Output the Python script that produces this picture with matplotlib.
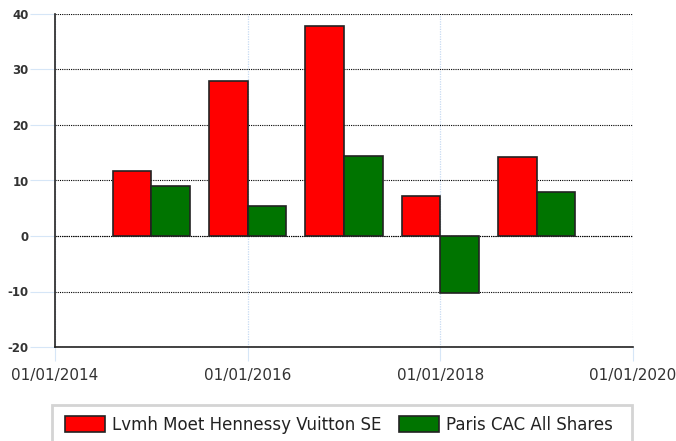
import matplotlib
matplotlib.use("Agg")
import matplotlib.pyplot as plt
import matplotlib.dates as mdates
from matplotlib.patches import Rectangle
import numpy as np
from datetime import date

# yearly returns (%)
years = [2015, 2016, 2017, 2018, 2019]
lvmh = [11.7, 28.0, 37.9, 7.2, 14.2]
cac = [9.0, 5.4, 14.4, -10.3, 7.9]
series_names = ["Lvmh Moet Hennessy Vuitton SE", "Paris CAC All Shares"]
tick_years = [2014, 2016, 2018, 2020]

plt.rcParams["axes.unicode_minus"] = False

fig = plt.figure(figsize=(6.76, 4.41), dpi=100)
ax = fig.add_axes([55/676, 1 - 347/441, (633-55)/676, (347-14)/441])

centers = [mdates.date2num(date(y, 1, 1)) for y in years]
w = 147
ax.bar(centers, lvmh, width=-w, align="edge", color="#ff0000",
       edgecolor="#222222", linewidth=1.2, label=series_names[0], zorder=3)
ax.bar(centers, cac, width=w, align="edge", color="#007400",
       edgecolor="#222222", linewidth=1.2, label=series_names[1], zorder=3)

ax.set_xlim(mdates.date2num(date(2014, 1, 1)), mdates.date2num(date(2020, 1, 1)))
ax.set_ylim(-20, 40)
ax.set_yticks(np.arange(-20, 41, 10))
ax.set_xticks([mdates.date2num(date(y, 1, 1)) for y in tick_years])
ax.set_xticklabels([f"01/01/{y}" for y in tick_years])

ax.grid(axis="y", color="black", linestyle=(0, (1, 1)), linewidth=0.8, zorder=1)
ax.grid(axis="x", color="#c6daf2", linestyle=(0, (1, 1)), linewidth=0.9, zorder=1)
ax.axhline(0, color="black", linestyle=(0, (1, 1)), linewidth=0.8, zorder=1)

for s in ["top", "right"]:
    ax.spines[s].set_visible(False)
for s in ["left", "bottom"]:
    ax.spines[s].set_color("#222222")
    ax.spines[s].set_linewidth(1.2)

ax.tick_params(axis="y", length=18, color="#d6e6f7", labelsize=8.5,
               labelcolor="#333333", pad=1)
ax.tick_params(axis="x", length=10, color="#d6e6f7", labelsize=11,
               labelcolor="#333333", pad=5)
for lbl in ax.get_yticklabels():
    lbl.set_fontweight("bold")

# legend frame drawn by hand so it spans the plot width
fig.patches.append(Rectangle((52/676, -0.01), 580/676, (441-405)/441 + 0.01,
                             transform=fig.transFigure, facecolor="white",
                             edgecolor="#d4d4d4", linewidth=2, zorder=0))
leg = fig.legend(loc="center left", bbox_to_anchor=(50/676, 1 - 425/441), ncol=2,
                 fontsize=12, frameon=False,
                 handlelength=2.4, handleheight=1.1, handletextpad=0.45,
                 columnspacing=1.0)
for t in leg.get_texts():
    t.set_color("#222222")

fig.savefig("out.png", dpi=100)
